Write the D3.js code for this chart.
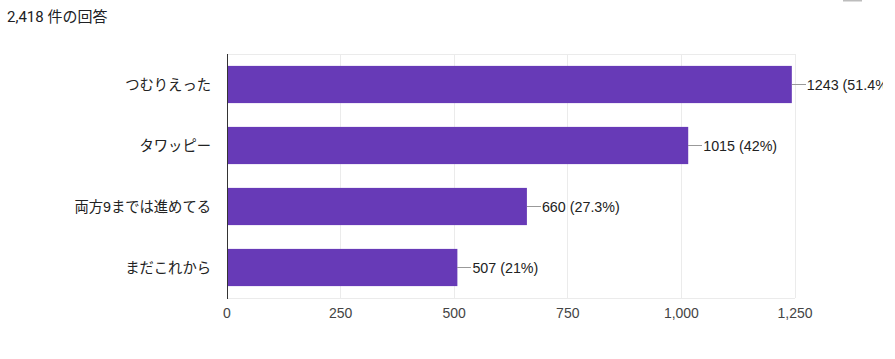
<!DOCTYPE html>
<html><head><meta charset="utf-8">
<script src="https://cdn.jsdelivr.net/npm/d3@7"></script>
<style>
html,body{margin:0;padding:0;background:#fff;}
</style></head>
<body>
<script>
const categories = ["つむりえった","タワッピー","両方9までは進めてる","まだこれから"];
const values = [1243, 1015, 660, 507];
const percents = ["51.4%","42%","27.3%","21%"];
const ticks = [0, 250, 500, 750, 1000, 1250];
const title = "2,418 件の回答";

(function(){
const W = 895, H = 359;
const svg = d3.select("body").append("svg").attr("width", W).attr("height", H);
const font = "Arial, 'Liberation Sans', 'Noto Sans CJK JP', sans-serif";

svg.append("text").attr("x", 7).attr("y", 22)
  .attr("font-family", "Roboto, 'Noto Sans CJK JP', sans-serif")
  .attr("font-size", 15).attr("fill", "#202124").text(title);

svg.append("rect").attr("x", 843).attr("y", 0).attr("width", 19).attr("height", 1.5).attr("fill", "#bdbdbd");

const pl = 227, pr = 795, pt = 54, pb = 298;
const x = d3.scaleLinear().domain([0, 1250]).range([pl, pr]);
const y = d3.scaleBand().domain(categories).range([pt, pb]).paddingInner(0.39).paddingOuter(0.195);

svg.append("defs").append("clipPath").attr("id", "clip")
  .append("rect").attr("x", 0).attr("y", 0).attr("width", 883).attr("height", H);

// gridlines
svg.append("g").selectAll("line").data(ticks).join("line")
  .attr("x1", d => x(d)).attr("x2", d => x(d)).attr("y1", pt).attr("y2", pb)
  .attr("stroke", "#ebebeb").attr("stroke-width", 1).attr("shape-rendering", "crispEdges");
svg.append("line").attr("x1", pl).attr("x2", pr).attr("y1", pt).attr("y2", pt)
  .attr("stroke", "#ebebeb").attr("shape-rendering", "crispEdges");
svg.append("line").attr("x1", pl).attr("x2", pr).attr("y1", pb).attr("y2", pb)
  .attr("stroke", "#ebebeb").attr("shape-rendering", "crispEdges");

// bars
svg.append("g").selectAll("rect").data(values).join("rect")
  .attr("x", x(0)).attr("y", (d, i) => y(categories[i]))
  .attr("width", d => x(d) - x(0)).attr("height", y.bandwidth())
  .attr("fill", "#673ab7");

// leader lines and labels
const lg = svg.append("g").attr("clip-path", "url(#clip)");
lg.selectAll("line").data(values).join("line")
  .attr("x1", d => x(d)).attr("x2", d => x(d) + 14)
  .attr("y1", (d, i) => y(categories[i]) + y.bandwidth() / 2)
  .attr("y2", (d, i) => y(categories[i]) + y.bandwidth() / 2)
  .attr("stroke", "#999").attr("stroke-width", 1).attr("shape-rendering", "crispEdges");
lg.selectAll("text").data(values).join("text")
  .attr("x", d => x(d) + 15)
  .attr("y", (d, i) => y(categories[i]) + y.bandwidth() / 2)
  .attr("dy", "0.36em")
  .attr("font-family", font).attr("font-size", 14.3).attr("fill", "#222")
  .text((d, i) => `${d} (${percents[i]})`);

// category labels
svg.append("g").selectAll("text").data(categories).join("text")
  .attr("x", 211).attr("y", d => y(d) + y.bandwidth() / 2).attr("dy", "0.36em")
  .attr("text-anchor", "end").attr("font-family", font).attr("font-size", 14.3).attr("fill", "#222")
  .text(d => d);

// axis line
svg.append("line").attr("x1", pl).attr("x2", pl).attr("y1", pt).attr("y2", pb + 1)
  .attr("stroke", "#333").attr("stroke-width", 1).attr("shape-rendering", "crispEdges");

// x tick labels
const fmt = d3.format(",");
svg.append("g").selectAll("text").data(ticks).join("text")
  .attr("x", d => x(d)).attr("y", 318).attr("text-anchor", "middle")
  .attr("font-family", font).attr("font-size", 14).attr("fill", "#444")
  .text(d => fmt(d));
})();
</script>
</body></html>
